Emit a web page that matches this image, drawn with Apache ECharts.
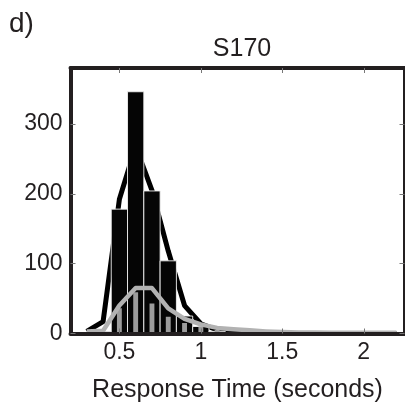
<!DOCTYPE html>
<html>
<head>
<meta charset="utf-8">
<script src="https://cdn.jsdelivr.net/npm/echarts@6/dist/echarts.min.js"></script>
<style>
html,body{margin:0;padding:0;background:#fff;}
#chart{width:405px;height:409px;}
</style>
</head>
<body>
<div id="chart"></div>
<script>
// Histogram bin centers and counts (observed, black bars)
const blackBarX = [0.4, 0.5, 0.6, 0.7, 0.8, 0.9, 1.0, 1.1];
const blackBarY = [3, 178, 346, 204, 104, 25, 10, 3];
// Second histogram (gray bars)
const grayBarX = [0.5, 0.6, 0.7, 0.8, 0.9, 1.0, 1.1, 1.2];
const grayBarY = [36, 59, 43, 24, 15, 10, 5, 2];
// Black curve
const blackLineX = [0.3, 0.4, 0.5, 0.6, 0.7, 0.8, 0.9, 1.0, 1.1, 1.2, 1.3, 1.4, 1.6, 1.8, 2.0, 2.2];
const blackLineY = [3, 17, 192, 268, 205, 118, 40, 14, 5, 2, 0.5, 0, 0, 0, 0, 0];
// Gray curve
const grayLineX = [0.3, 0.4, 0.5, 0.6, 0.7, 0.8, 0.9, 1.0, 1.1, 1.2, 1.3, 1.4, 1.5, 1.6, 1.7, 1.8, 1.9, 2.0, 2.1, 2.2];
const grayLineY = [3, 4, 40, 65, 65, 36, 21, 13, 8, 6, 4.5, 3, 2, 1.5, 1.5, 1, 1, 1, 1, 1];
// Tick labels
const xTicks = [0.5, 1, 1.5, 2];
const yTicks = [0, 100, 200, 300];

const zip = (xs, ys) => xs.map((x, i) => [x, ys[i]]);
const FONT = 'Liberation Sans';
const TXT = '#231f20';
const AX = '#231f20';

function barRenderer(halfW, fill, stroke, lw) {
  return function (params, api) {
    const x = api.value(0), y = api.value(1);
    const p0 = api.coord([x - halfW, y]);
    const p1 = api.coord([x + halfW, 0]);
    return {
      type: 'rect',
      shape: { x: p0[0], y: p0[1], width: p1[0] - p0[0], height: p1[1] - p0[1] },
      style: { fill: fill, stroke: stroke, lineWidth: lw }
    };
  };
}

const axisCommon = {
  type: 'value',
  z: 10,
  splitLine: { show: false },
  axisLine: { show: true, onZero: false, lineStyle: { color: AX, width: 4 } },
  axisTick: { show: true, inside: true, length: 5, lineStyle: { color: '#777', width: 1 } }
};

const chart = echarts.init(document.getElementById('chart'), null, { renderer: 'canvas' });
chart.setOption({
  animation: false,
  backgroundColor: '#fff',
  title: [
    { text: 'd)', left: 4, top: 5, textStyle: { fontFamily: FONT, fontSize: 28, fontWeight: 'normal', color: TXT } },
    { text: 'S170', left: 237, top: 32, textAlign: 'center', textStyle: { fontFamily: FONT, fontSize: 25, fontWeight: 'normal', color: TXT } }
  ],
  grid: { left: 70.5, right: 0.5, top: 68, bottom: 75.5, containLabel: false },
  xAxis: [
    Object.assign({}, axisCommon, {
      position: 'bottom', min: 0.2, max: 2.25,
      axisTick: Object.assign({}, axisCommon.axisTick, { customValues: xTicks }),
      axisLabel: { customValues: xTicks, margin: 8, fontFamily: FONT, fontSize: 23, color: TXT },
      name: 'Response Time (seconds)', nameLocation: 'middle', nameGap: 44,
      nameTextStyle: { fontFamily: FONT, fontSize: 25, color: TXT }
    }),
    Object.assign({}, axisCommon, {
      position: 'top', min: 0.2, max: 2.25,
      axisTick: Object.assign({}, axisCommon.axisTick, { customValues: xTicks }),
      axisLabel: { show: false }
    })
  ],
  yAxis: [
    Object.assign({}, axisCommon, {
      position: 'left', min: 0, max: 380,
      axisTick: Object.assign({}, axisCommon.axisTick, { customValues: yTicks }),
      axisLabel: { customValues: yTicks, margin: 8, fontFamily: FONT, fontSize: 23, color: TXT }
    }),
    Object.assign({}, axisCommon, {
      position: 'right', min: 0, max: 380,
      axisTick: Object.assign({}, axisCommon.axisTick, { customValues: yTicks }),
      axisLabel: { show: false }
    })
  ],
  series: [
    {
      type: 'line', data: zip(blackLineX, blackLineY), xAxisIndex: 0, yAxisIndex: 0,
      symbol: 'none', z: 1, lineStyle: { color: '#000', width: 5, join: 'round' }
    },
    {
      type: 'custom', data: zip(blackBarX, blackBarY), xAxisIndex: 0, yAxisIndex: 0, z: 2, clip: true,
      renderItem: barRenderer(0.05, '#050505', '#f0f0f0', 0.9)
    },
    {
      type: 'custom', data: zip(grayBarX, grayBarY), xAxisIndex: 0, yAxisIndex: 0, z: 3, clip: true,
      renderItem: barRenderer(0.015, '#9c9c9c', null, 0)
    },
    {
      type: 'line', data: zip(grayLineX, grayLineY), xAxisIndex: 0, yAxisIndex: 0,
      symbol: 'none', z: 4, lineStyle: { color: '#b2b2b2', width: 4.5, join: 'round' }
    }
  ]
});
</script>
</body>
</html>
